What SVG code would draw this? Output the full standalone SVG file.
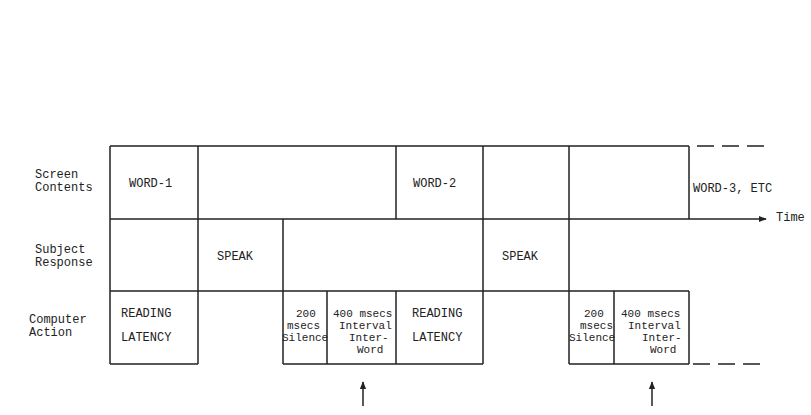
<svg xmlns="http://www.w3.org/2000/svg" width="811" height="415" viewBox="0 0 811 415">
<style>
text{font-family:"Liberation Mono","Courier New",monospace;font-size:12px;fill:#222}
text.s{font-size:11px}
.l{stroke:#222;stroke-width:1.5;fill:none}
.d{stroke:#222;stroke-width:1.5;fill:none;stroke-dasharray:17,8}
</style>
<defs>
<marker id="ah" viewBox="0 0 10 10" refX="9" refY="5" markerWidth="8" markerHeight="8" orient="auto" markerUnits="userSpaceOnUse"><path d="M0,1L10,5L0,9z" fill="#222"/></marker>
</defs>
<rect width="811" height="415" fill="#fff"/>
<g id="row-labels">
<text x="35" y="178">Screen</text><text x="35" y="191">Contents</text>
<text x="35" y="253">Subject</text><text x="35" y="266">Response</text>
<text x="29" y="323">Computer</text><text x="29" y="336">Action</text>
</g>
<g id="connectors">
<path class="l" d="M110,146H689M110,146V364M110,291H689"/>
<path class="l" d="M110,219H766" marker-end="url(#ah)"/>
<path class="d" d="M697,146H772"/>
<path class="d" d="M693,364H768"/>
<path class="l" d="M198,146V364M283,219V364M396,146V219M396,291V364M483,146V364M569,146V364M689,146V219M689,291V364M327,291V364M614,291V364"/>
<path class="l" d="M110,364H198M283,364H483M569,364H689"/>
<path class="l" d="M363,406V382" marker-end="url(#ah)"/>
<path class="l" d="M652,406V382" marker-end="url(#ah)"/>
</g>
<g id="word1"><text x="129" y="187">WORD-1</text></g>
<g id="word2"><text x="413" y="187">WORD-2</text></g>
<g id="word3"><text x="693" y="192">WORD-3, ETC</text></g>
<g id="time"><text x="776" y="221">Time</text></g>
<g id="speak1"><text x="217" y="260">SPEAK</text></g>
<g id="speak2"><text x="502" y="260">SPEAK</text></g>
<g id="latency1"><text x="121" y="317">READING</text><text x="121" y="341">LATENCY</text></g>
<g id="latency2"><text x="412" y="317">READING</text><text x="412" y="341">LATENCY</text></g>
<g id="silence1"><text class="s" x="296" y="317">200</text><text class="s" x="287" y="329">msecs</text><text class="s" x="282" y="341">Silence</text></g>
<g id="interval1"><text class="s" x="333" y="317">400 msecs</text><text class="s" x="339" y="329">Interval</text><text class="s" x="349" y="341">Inter-</text><text class="s" x="357" y="353">Word</text></g>
<g id="silence2"><text class="s" x="584" y="317">200</text><text class="s" x="580" y="329">msecs</text><text class="s" x="569" y="341">Silence</text></g>
<g id="interval2"><text class="s" x="621" y="317">400 msecs</text><text class="s" x="628" y="329">Interval</text><text class="s" x="642" y="341">Inter-</text><text class="s" x="650" y="353">Word</text></g>
</svg>
